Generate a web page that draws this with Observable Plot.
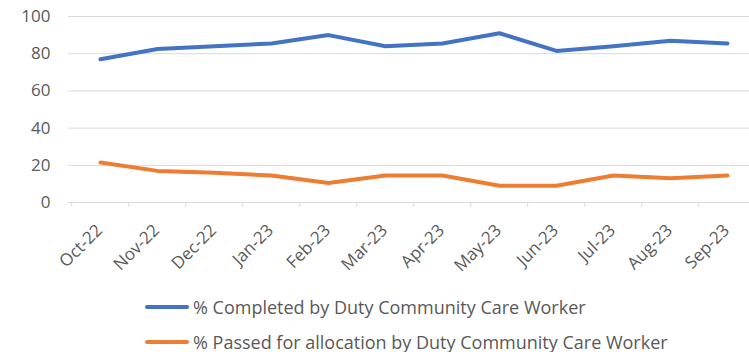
<!DOCTYPE html>
<html>
<head>
<meta charset="utf-8">
<script src="https://cdn.jsdelivr.net/npm/d3@7"></script>
<script src="https://cdn.jsdelivr.net/npm/@observablehq/plot@0.6"></script>
<style>
  html, body { margin: 0; padding: 0; background: #fff; }
  body { width: 749px; height: 352px; overflow: hidden; font-family: "Open Sans", sans-serif; }
  #chart svg { display: block; }
  .legend { margin-top: 9px; padding-left: 145px; }
  .row { display: flex; align-items: center; height: 35px; }
  .sw { width: 44px; height: 4px; border-radius: 2px; margin-right: 4px; }
  .lab { font-size: 18px; color: #595959; white-space: nowrap; }
</style>
</head>
<body>
<div id="chart"></div>
<div class="legend" id="legend"></div>
<script>
const months = ["Oct-22","Nov-22","Dec-22","Jan-23","Feb-23","Mar-23","Apr-23","May-23","Jun-23","Jul-23","Aug-23","Sep-23"];
const completed = [77, 82.5, 84, 85.5, 90, 84, 85.5, 91, 81.5, 84, 87, 85.5];
const passed = [21.5, 17, 16, 14.5, 10.5, 14.5, 14.5, 9, 9, 14.5, 13, 14.5];
const seriesNames = ["% Completed by Duty Community Care Worker", "% Passed for allocation by Duty Community Care Worker"];
const seriesColors = ["#4472C4", "#ED7D31"];
const yTicks = [0, 20, 40, 60, 80, 100];

const data = [
  ...months.map((m, i) => ({month: m, value: completed[i], series: seriesNames[0]})),
  ...months.map((m, i) => ({month: m, value: passed[i], series: seriesNames[1]}))
];

const chart = Plot.plot({
  width: 749,
  height: 280,
  marginLeft: 68,
  marginRight: 0,
  marginTop: 16,
  marginBottom: 78,
  style: {fontFamily: "'Open Sans', sans-serif", fontSize: "17px", color: "#595959", background: "#fff"},
  x: {type: "point", domain: months, range: [68, 758], padding: 0.5, axis: null},
  y: {domain: [0, 100], ticks: yTicks, tickSize: 0, tickPadding: 18, label: null},
  color: {domain: seriesNames, range: seriesColors},
  marks: [
    Plot.ruleY(yTicks, {stroke: "#d9d9d9", strokeWidth: 1}),
    Plot.ruleX(months, {x: d => d, y1: 0, y2: 0, insetBottom: -5, dx: -28.75, stroke: "#d9d9d9"}),
    Plot.text(months, {x: d => d, y: 0, dy: 25, dx: -1, rotate: -45, textAnchor: "end", lineAnchor: "middle", fill: "#595959", fontSize: 17}),
    Plot.line(data, {x: "month", y: "value", z: "series", stroke: "series", strokeWidth: 4, strokeLinecap: "round", strokeLinejoin: "round"})
  ]
});
document.getElementById("chart").append(chart);

const legend = document.getElementById("legend");
seriesNames.forEach((name, i) => {
  const row = document.createElement("div");
  row.className = "row";
  const sw = document.createElement("div");
  sw.className = "sw";
  sw.style.background = seriesColors[i];
  const lab = document.createElement("span");
  lab.className = "lab";
  lab.textContent = name;
  row.append(sw, lab);
  legend.append(row);
});
</script>
</body>
</html>
